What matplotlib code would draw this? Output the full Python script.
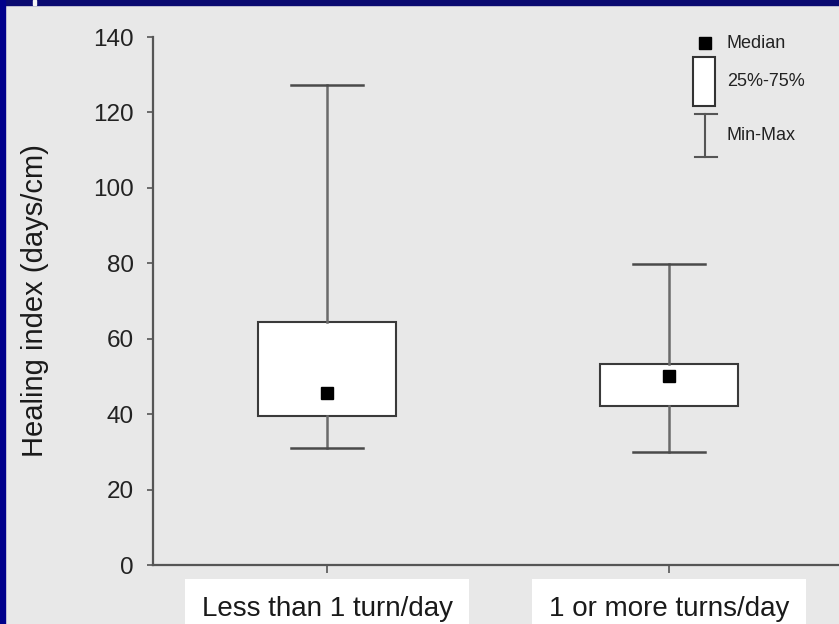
import matplotlib
matplotlib.use("Agg")
import matplotlib.pyplot as plt
from matplotlib.patches import Rectangle
from matplotlib.lines import Line2D

plt.rcParams['font.family'] = ['Liberation Sans', 'DejaVu Sans']

# Healing index summary per turning group
groups = ["Less than 1 turn/day", "1 or more turns/day"]
medians = [45.6, 50.2]
q1 = [39.5, 42.2]
q3 = [64.4, 53.3]
mins = [31.0, 30.0]
maxs = [127.3, 79.7]
yticks = [0, 20, 40, 60, 80, 100, 120, 140]
legend_labels = ["Median", "25%-75%", "Min-Max"]

W, H = 839, 624
BG = '#e8e8e8'
fig = plt.figure(figsize=(W / 100, H / 100), dpi=100, facecolor=BG)


def fx(x):
    return x / W


def fy(y):
    return 1 - y / H


# slide frame
fig.patches.append(Rectangle((0, fy(5)), 1, 5 / H, transform=fig.transFigure,
                             color='#0a0a70', zorder=0))
fig.patches.append(Rectangle((0, 0), fx(5), 1, transform=fig.transFigure,
                             color='#00008b', zorder=0))
fig.patches.append(Rectangle((fx(33), fy(5)), 3 / W, 5 / H, transform=fig.transFigure,
                             color='#f4f4f4', zorder=1))

ax = fig.add_axes([fx(153), (H - 565) / H, (W - 153) / W, 528 / H])
ax.set_facecolor('none')

positions = [1, 2]
stats = [dict(med=m, q1=a, q3=b, whislo=lo, whishi=hi, label=g)
         for g, m, a, b, lo, hi in zip(groups, medians, q1, q3, mins, maxs)]
ax.bxp(stats, positions=positions, widths=0.406, capwidths=0.21,
       showfliers=False, patch_artist=True,
       boxprops=dict(facecolor='white', edgecolor='#3a3a3a', linewidth=1.5),
       whiskerprops=dict(color='#6a6a6a', linewidth=1.8),
       capprops=dict(color='#4a4a4a', linewidth=1.8),
       medianprops=dict(visible=False))
ax.plot(positions, medians, 's', color='black', ms=8.6, zorder=5)

ax.set_xlim(0.491, 2.497)
ax.set_ylim(0, 140)
ax.set_yticks(yticks)
ax.set_yticklabels([str(t) for t in yticks], fontsize=17.5, color='#222222')
ax.set_xticks(positions)
ax.set_xticklabels(groups, fontsize=20, color='#1a1a1a')
for lbl in ax.get_xticklabels():
    lbl.set_bbox(dict(boxstyle='square,pad=0.6', facecolor='white', edgecolor='none'))

for side in ('top', 'right'):
    ax.spines[side].set_visible(False)
for side in ('left', 'bottom'):
    ax.spines[side].set_color('#555555')
    ax.spines[side].set_linewidth(1.6)
ax.tick_params(axis='y', length=4, width=1.2, color='#555555', pad=10)
ax.tick_params(axis='x', length=6, width=1.2, color='#555555', pad=16)

fig.text(fx(35), fy(301), "Healing index (days/cm)", rotation=90,
         ha='center', va='center', fontsize=21, color='#1a1a1a')

# key
fig.lines.append(Line2D([fx(705)], [fy(43)], marker='s', ms=8.6, color='black',
                        linestyle='none', transform=fig.transFigure))
fig.patches.append(Rectangle((fx(693), fy(106)), 22 / W, 49 / H, transform=fig.transFigure,
                             facecolor='white', edgecolor='#333333', linewidth=1.5))
fig.lines.append(Line2D([fx(705), fx(705)], [fy(114), fy(157)], color='#555555',
                        linewidth=1.5, transform=fig.transFigure))
for yy in (114, 157):
    fig.lines.append(Line2D([fx(695), fx(717)], [fy(yy), fy(yy)], color='#555555',
                            linewidth=1.5, transform=fig.transFigure))
for txt, yy in zip(legend_labels, (43, 82, 135)):
    fig.text(fx(727), fy(yy), txt, ha='left', va='center', fontsize=13, color='#222222')

fig.savefig('out.png', dpi=100, facecolor=BG)
